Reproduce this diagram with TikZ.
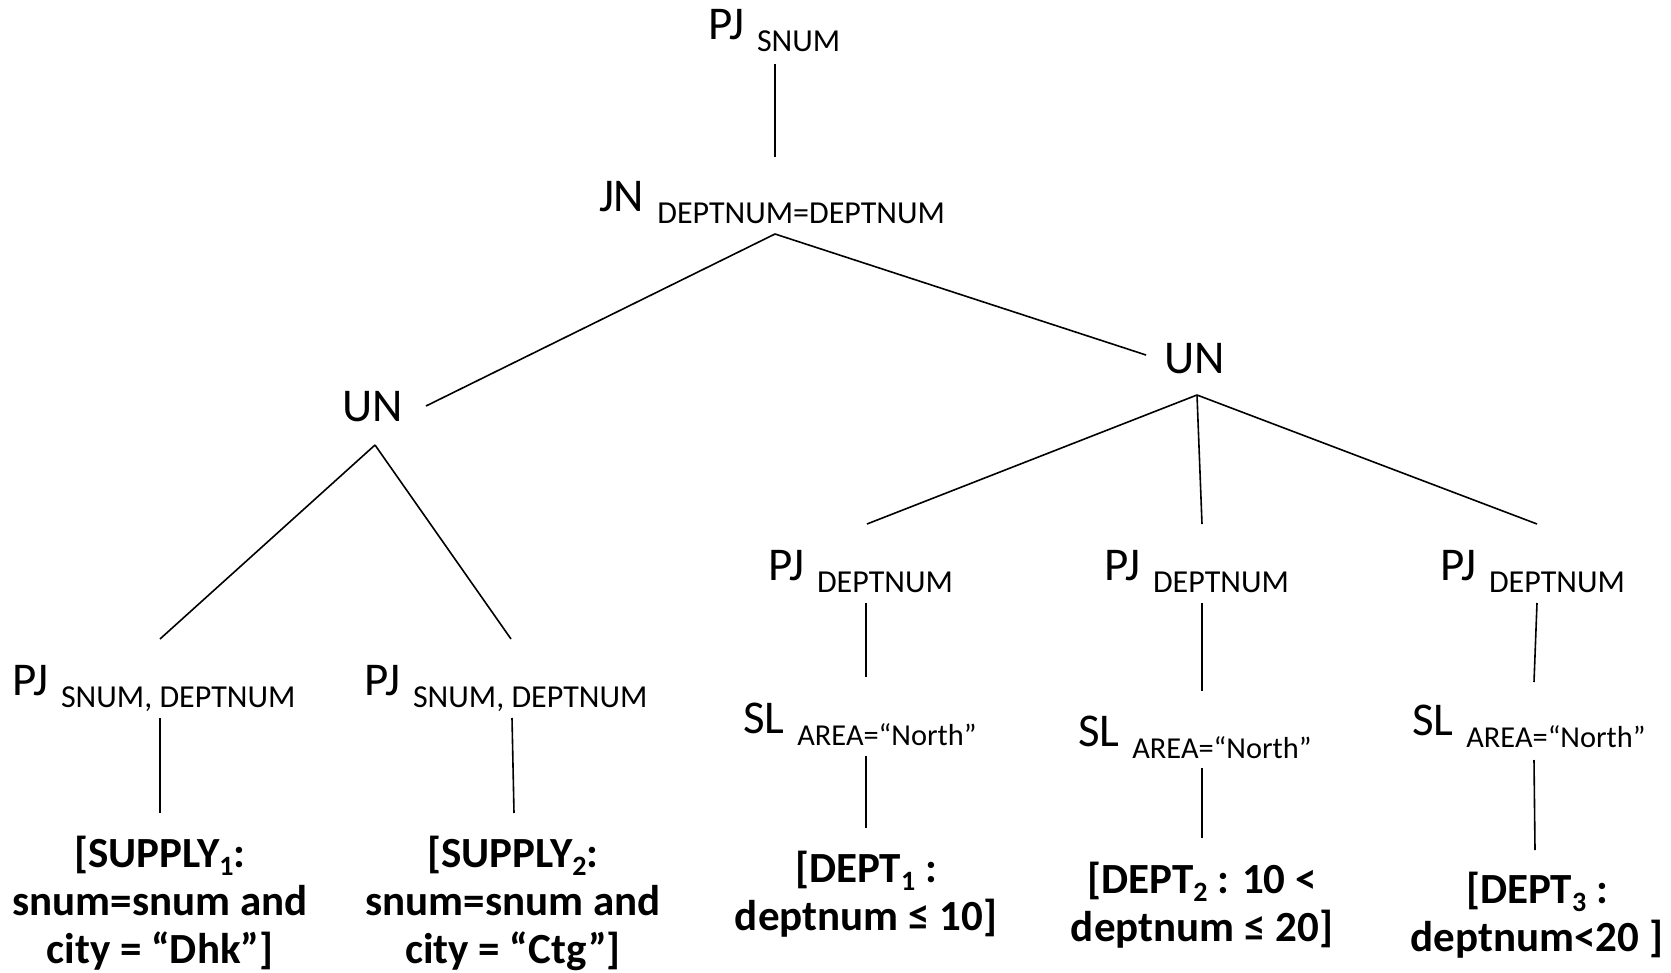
\documentclass[tikz,border=0pt]{standalone}
\usepackage{fontspec}
\setmainfont{Carlito}
\newcommand{\opsize}{\fontsize{23.5}{27}\selectfont}
\newcommand{\subsize}{\fontsize{16}{19}\selectfont}
\newcommand{\condsize}{\fontsize{15.2}{18}\selectfont}
% operator symbol with its lowered parameter
\newcommand{\oplab}[2]{{\opsize #1}\hspace{6.5pt}\raisebox{-6pt}{\subsize #2}}
\newcommand{\sellab}[2]{{\opsize #1}\hspace{6.5pt}\raisebox{-6pt}{\condsize #2}}
% bold fragment label with a lowered index
\newcommand{\fragidx}[1]{\raisebox{-4pt}{\fontsize{14}{14}\selectfont #1}}
\begin{document}
\begin{tikzpicture}[x=0.5pt,y=-0.5pt,
  oper/.style={anchor=base west,inner sep=0pt,outer sep=0pt},
  frag/.style={anchor=base,inner sep=0pt,outer sep=0pt,align=center,
    font=\fontsize{21.5}{24}\selectfont\bfseries},
  edge/.style={draw=black,line width=0.8pt}]
\useasboundingbox (0,0) rectangle (1671,973);

% operator nodes
\node[oper] (pj0) at (708,40) {\oplab{PJ}{SNUM}};
\node[oper] (jn) at (599,212) {\oplab{JN}{DEPTNUM=DEPTNUM}};
\node[oper] (unL) at (342,422) {\opsize UN};
\node[oper] (unR) at (1164,373) {\opsize UN};
\node[oper] (pjL1) at (12,695) {\oplab{PJ}{SNUM, DEPTNUM}};
\node[oper] (pjL2) at (364,695) {\oplab{PJ}{SNUM, DEPTNUM}};
\node[oper] (pjR1) at (768,580) {\oplab{PJ}{DEPTNUM}};
\node[oper] (pjR2) at (1104,580) {\oplab{PJ}{DEPTNUM}};
\node[oper] (pjR3) at (1440,580) {\oplab{PJ}{DEPTNUM}};
\node[oper] (sl1) at (743,733) {\sellab{SL}{AREA=“North”}};
\node[oper] (sl2) at (1078,746) {\sellab{SL}{AREA=“North”}};
\node[oper] (sl3) at (1412,735) {\sellab{SL}{AREA=“North”}};

% fragment leaves (placed by the baseline of their last line)
\node[frag] (sup1) at (160,963) {[SUPPLY\fragidx{1}:\\snum=snum and\\city = “Dhk”]};
\node[frag] (sup2) at (513,963) {[SUPPLY\fragidx{2}:\\snum=snum and\\city = “Ctg”]};
\node[frag] (dept1) at (866,930) {[DEPT\fragidx{1} :\\deptnum ≤ 10]};
\node[frag] (dept2) at (1202,941) {[DEPT\fragidx{2} : 10 <\\deptnum ≤ 20]};
\node[frag] (dept3) at (1537,951) {[DEPT\fragidx{3} :\\deptnum<20 ]};

% connector end points beside the labels
\coordinate (pj0-out) at (775,64);
\coordinate (jn-in) at (775,157);
\coordinate (jn-out) at (775,234);
\coordinate (unL-in) at (426,406);
\coordinate (unR-in) at (1146,355);
\coordinate (unL-out) at (375,445);
\coordinate (pjL1-in) at (160,639);
\coordinate (pjL2-in) at (511,639);
\coordinate (pjL1-out) at (160,718);
\coordinate (sup1-in) at (160,813);
\coordinate (pjL2-out) at (512,718);
\coordinate (sup2-in) at (514,813);
\coordinate (unR-out) at (1197,395);
\coordinate (pjR1-in) at (867,524);
\coordinate (pjR2-in) at (1202,524);
\coordinate (pjR3-in) at (1537,524);
\coordinate (pjR1-out) at (866,603);
\coordinate (sl1-in) at (866,677);
\coordinate (sl1-out) at (866,756);
\coordinate (dept1-in) at (866,828);
\coordinate (pjR2-out) at (1202,603);
\coordinate (sl2-in) at (1202,691);
\coordinate (sl2-out) at (1202,768);
\coordinate (dept2-in) at (1202,838);
\coordinate (pjR3-out) at (1537,603);
\coordinate (sl3-in) at (1534,682);
\coordinate (sl3-out) at (1534,760);
\coordinate (dept3-in) at (1535,850);

% tree edges
\draw[edge] (pj0-out) -- (jn-in);
\draw[edge] (jn-out) -- (unL-in);
\draw[edge] (jn-out) -- (unR-in);
\draw[edge] (unL-out) -- (pjL1-in);
\draw[edge] (unL-out) -- (pjL2-in);
\draw[edge] (pjL1-out) -- (sup1-in);
\draw[edge] (pjL2-out) -- (sup2-in);
\draw[edge] (unR-out) -- (pjR1-in);
\draw[edge] (unR-out) -- (pjR2-in);
\draw[edge] (unR-out) -- (pjR3-in);
\draw[edge] (pjR1-out) -- (sl1-in);
\draw[edge] (sl1-out) -- (dept1-in);
\draw[edge] (pjR2-out) -- (sl2-in);
\draw[edge] (sl2-out) -- (dept2-in);
\draw[edge] (pjR3-out) -- (sl3-in);
\draw[edge] (sl3-out) -- (dept3-in);
\end{tikzpicture}
\end{document}
